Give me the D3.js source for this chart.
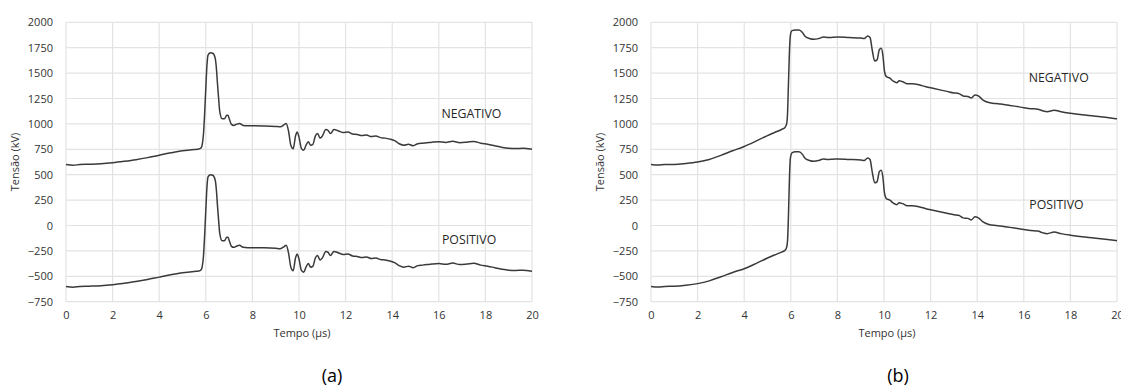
<!DOCTYPE html>
<html><head><meta charset="utf-8">
<script src="https://cdn.jsdelivr.net/npm/d3@7"></script>
<style>body{margin:0;background:#fff}text{font-family:"Open Sans",sans-serif}</style>
</head><body><svg id="c" width="1121" height="387"></svg>
<script>
const xTicks = [0,2,4,6,8,10,12,14,16,18,20];
const yTicks = [-750,-500,-250,0,250,500,750,1000,1250,1500,1750,2000];

const tA = [0,0.3,0.6,1,1.5,2,2.5,3,3.5,4,4.5,5,5.5,5.7,5.8,5.85,5.9,5.95,6.0,6.05,6.1,6.2,6.3,6.4,6.45,6.5,6.55,6.6,6.7,6.8,6.9,6.95,7.0,7.1,7.2,7.3,7.45,7.6,7.8,8,8.5,9,9.2,9.35,9.45,9.55,9.65,9.75,9.85,9.92,10.0,10.1,10.2,10.3,10.4,10.5,10.6,10.7,10.8,10.9,11.0,11.15,11.25,11.35,11.5,11.7,11.9,12.1,12.3,12.5,12.7,12.9,13.1,13.3,13.5,13.7,13.9,14.1,14.3,14.5,14.7,14.9,15.1,15.3,15.5,15.7,16,16.3,16.6,16.9,17.2,17.5,17.8,18.1,18.4,18.7,19,19.3,19.6,20];
const negA = [600,593,600,603,608,618,632,648,668,692,715,735,748,752,765,800,900,1100,1350,1580,1680,1700,1695,1650,1560,1400,1250,1120,1050,1050,1085,1085,1055,995,985,995,1005,985,982,982,980,975,972,990,1005,930,790,755,880,920,870,760,740,790,825,790,800,880,905,860,880,945,935,905,945,930,915,920,900,895,885,890,875,880,865,860,850,835,805,790,800,785,805,810,815,820,825,818,830,815,820,828,810,800,785,770,760,758,760,750];
const posA = [-600,-607,-600,-597,-592,-582,-568,-552,-532,-508,-485,-465,-452,-448,-435,-400,-300,-100,150,380,480,500,495,450,360,200,50,-80,-150,-150,-115,-115,-145,-205,-215,-205,-195,-215,-218,-218,-220,-225,-228,-210,-195,-270,-410,-445,-320,-280,-330,-440,-460,-410,-375,-410,-400,-320,-295,-340,-320,-255,-265,-295,-255,-270,-285,-280,-300,-305,-315,-310,-325,-320,-335,-340,-350,-365,-395,-410,-400,-415,-395,-390,-385,-380,-375,-382,-370,-385,-380,-372,-390,-400,-415,-430,-440,-442,-440,-450];

const tB = [0,0.3,0.6,1,1.5,2,2.5,3,3.5,4,4.5,5,5.3,5.6,5.75,5.82,5.86,5.9,5.94,5.98,6.05,6.2,6.35,6.5,6.6,6.8,7.0,7.2,7.4,7.6,7.8,8,8.5,9,9.15,9.3,9.4,9.5,9.6,9.7,9.8,9.88,9.95,10.02,10.1,10.25,10.4,10.55,10.65,10.8,11.0,11.2,11.5,11.8,12.1,12.4,12.7,13.0,13.2,13.4,13.6,13.75,13.9,14.05,14.25,14.5,14.8,15.0,15.3,15.6,16,16.3,16.6,16.8,17.0,17.3,17.6,18,18.5,19,19.5,20];
const negB = [600,595,600,600,610,625,650,690,735,778,830,885,915,945,965,1000,1100,1400,1700,1870,1918,1925,1925,1900,1865,1840,1832,1840,1855,1850,1852,1855,1850,1845,1840,1865,1850,1720,1620,1630,1730,1745,1680,1520,1465,1450,1420,1405,1425,1415,1395,1395,1385,1365,1350,1335,1320,1305,1300,1275,1270,1255,1285,1275,1235,1210,1200,1195,1185,1175,1160,1150,1145,1130,1120,1135,1120,1105,1090,1078,1065,1050];
const posB = [-600,-605,-600,-598,-588,-572,-545,-505,-462,-425,-375,-320,-290,-262,-245,-215,-150,100,450,660,715,725,725,700,665,640,632,640,655,650,652,655,650,645,640,665,650,520,420,430,530,545,480,320,265,250,220,205,225,215,195,195,185,165,150,135,120,105,100,75,70,55,85,75,35,10,0,-5,-15,-25,-40,-50,-55,-70,-80,-65,-80,-95,-110,-122,-135,-150];

const labels = [
  {panel:0, text:"NEGATIVO", t:17.4, v:1060},
  {panel:0, text:"POSITIVO", t:17.3, v:-185},
  {panel:1, text:"NEGATIVO", t:17.5, v:1410},
  {panel:1, text:"POSITIVO", t:17.4, v:165}
];
const captions = ["(a)","(b)"];

const svg = d3.select("#c");
svg.append("rect").attr("width",1121).attr("height",387).attr("fill","#fff");

const panels = [
  {x0:66, x1:532, t:tA, neg:negA, pos:posA},
  {x0:651, x1:1117, t:tB, neg:negB, pos:posB}
];
const yTop = 22.3, yBot = 301.7;

panels.forEach((p,i)=>{
  const x = d3.scaleLinear().domain([0,20]).range([p.x0,p.x1]);
  const y = d3.scaleLinear().domain([-750,2000]).range([yBot,yTop]);
  const g = svg.append("g");
  g.selectAll(".gx").data(xTicks).join("line")
    .attr("x1",d=>x(d)).attr("x2",d=>x(d)).attr("y1",yTop).attr("y2",yBot)
    .attr("stroke","#e3e3e3").attr("stroke-width",1.2);
  g.selectAll(".gy").data(yTicks).join("line")
    .attr("x1",p.x0).attr("x2",p.x1).attr("y1",d=>y(d)).attr("y2",d=>y(d))
    .attr("stroke","#e3e3e3").attr("stroke-width",1.2);
  const ax = g.append("g").attr("transform",`translate(0,${yBot})`)
    .call(d3.axisBottom(x).tickValues(xTicks).tickSize(0).tickPadding(10).tickFormat(d3.format("d")));
  ax.select(".domain").remove();
  ax.selectAll("text").attr("font-size",11).attr("fill","#333").attr("font-family","'Open Sans',sans-serif");
  const ay = g.append("g").attr("transform",`translate(${p.x0},0)`)
    .call(d3.axisLeft(y).tickValues(yTicks).tickSize(0).tickPadding(13).tickFormat(d3.format("d")));
  ay.select(".domain").remove();
  ay.selectAll("text").attr("font-size",11).attr("fill","#333").attr("font-family","'Open Sans',sans-serif");
  g.append("text").attr("x",(p.x0+p.x1)/2+3).attr("y",337).attr("text-anchor","middle")
    .attr("font-size",11).attr("fill","#333").text("Tempo (µs)");
  g.append("text").attr("transform",`translate(${p.x0-47},${(yTop+yBot)/2}) rotate(-90)`)
    .attr("text-anchor","middle").attr("font-size",11).attr("fill","#333").text("Tensão (kV)");
  const line = d3.line().x((d,k)=>x(p.t[k])).y(d=>y(d)).curve(d3.curveMonotoneX);
  [p.neg,p.pos].forEach(s=>{
    g.append("path").attr("d",line(s)).attr("fill","none")
      .attr("stroke","#3a3a3a").attr("stroke-width",1.5);
  });
  labels.filter(l=>l.panel===i).forEach(l=>{
    g.append("text").attr("x",x(l.t)).attr("y",y(l.v)).attr("text-anchor","middle")
      .attr("font-size",12.3).attr("fill","#262626").text(l.text);
  });
  g.append("text").attr("x",i===0?332:898).attr("y",382).attr("text-anchor","middle")
    .attr("font-family","'Liberation Serif','Times New Roman',serif").attr("font-size",18)
    .attr("fill","#000").text(captions[i]);
});
</script></body></html>
